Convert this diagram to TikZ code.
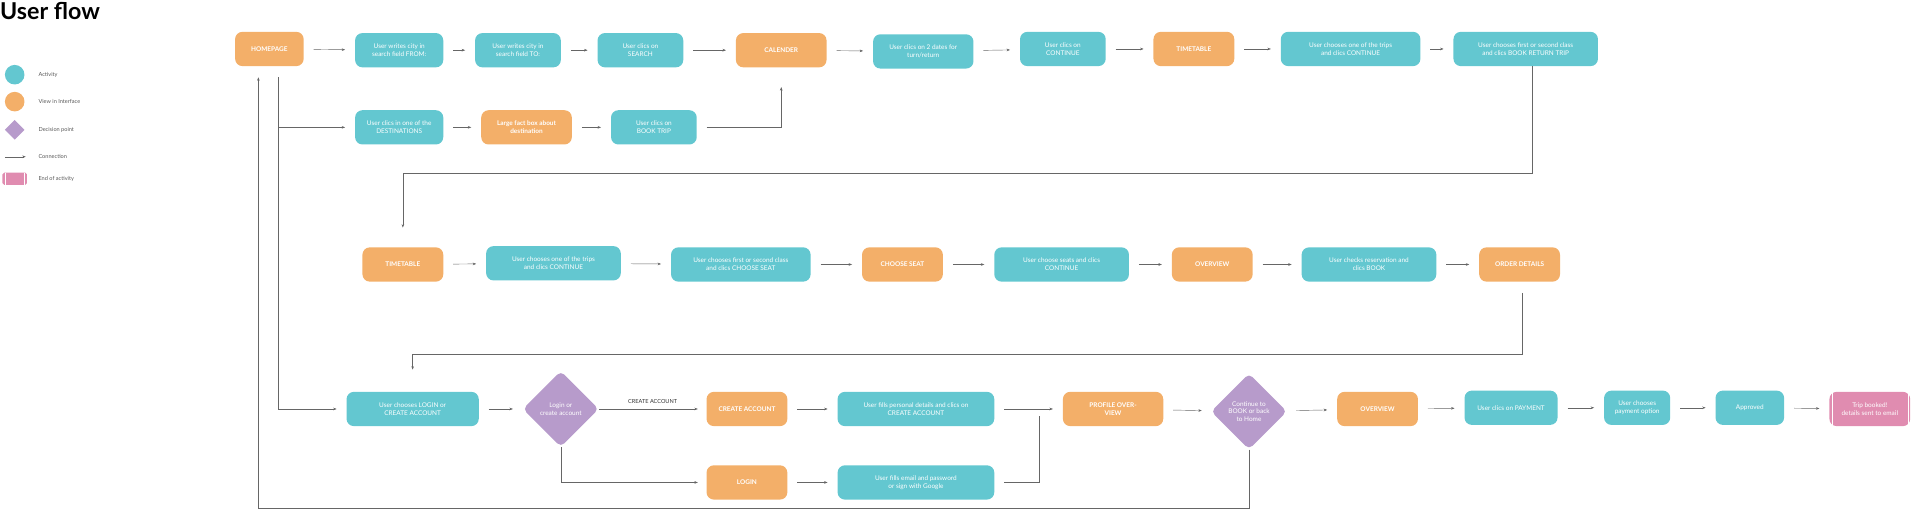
\documentclass[tikz,border=0pt]{standalone}
\usepackage{fontspec}
\setmainfont{Lato}
\usetikzlibrary{arrows.meta,shapes.geometric,shapes.misc}
\definecolor{actcol}{HTML}{63C7D0}
\definecolor{viewcol}{HTML}{F3AF69}
\definecolor{deccol}{HTML}{B79BCB}
\definecolor{endcol}{HTML}{E08CB0}
\tikzset{
  box/.style={rounded corners=0.3cm, minimum height=1.4cm, text=white, align=center,
    font=\fontsize{7.5}{9}\selectfont, inner sep=1pt},
  act/.style={box, fill=actcol, minimum width=3.5cm},
  view/.style={box, fill=viewcol, minimum width=3.3cm, font=\fontsize{7.5}{9}\selectfont\bfseries},
  dec/.style={diamond, fill=deccol, text=white, align=center, rounded corners=0.2cm,
    minimum width=3.1cm, minimum height=3.1cm, inner sep=0pt, font=\fontsize{7.5}{9}\selectfont},
  fin/.style={box, fill=endcol, minimum width=3.3cm},
  con/.style={draw=gray!80!black, line width=0.5pt, -{Stealth[length=4pt,width=3pt]}},
  gap/.style={con, shorten >=0.4cm, shorten <=0.4cm},
  leg/.style={font=\fontsize{6.5}{8}\selectfont, text=gray!70!black, anchor=west}
}
\begin{document}
\begin{tikzpicture}[x=0.05cm, y=-0.05cm]
      \useasboundingbox (0,0) rectangle (1568,426);
      % title and legend
      \node[anchor=north west, inner sep=0pt, font=\fontsize{27}{30}\selectfont\bfseries] (title) at (0,2) {User flow};
      \fill[actcol] (12,61) circle (8);
      \fill[viewcol] (12,83) circle (8);
      \fill[deccol] (12,98) -- (20,106) -- (12,114) -- (4,106) -- cycle;
      \coordinate (la) at (4,128);
      \coordinate (lb) at (21,128);
      \draw[con] (la) -- (lb);
      \fill[endcol, rounded corners=2pt] (2,141) rectangle (22,151);
      \draw[white, thin] (4,141) -- (4,151) (20,141) -- (20,151);
      \node[leg] at (29,61) {Activity};
      \node[leg] at (29,83) {View in Interface};
      \node[leg] at (29,106) {Decision point};
      \node[leg] at (29,128) {Connection};
      \node[leg] at (29,146) {End of activity};

      % row 1
      \node[view, minimum width=2.8cm] (home) at (220,40) {HOMEPAGE};
      \node[act, minimum width=3.6cm] (from) at (326,41) {User writes city in\\search field FROM:};
      \node[act] (to) at (423,41) {User writes city in\\search field TO:};
      \node[act] (search) at (523,41) {User clics on\\SEARCH};
      \node[view, minimum width=3.7cm] (cal) at (638,41) {CALENDER};
      \node[act, minimum width=4.1cm] (dates) at (754,42) {User clics on 2 dates for\\turn/return};
      \node[act] (cont1) at (868,40) {User clics on\\CONTINUE};
      \node[view] (time1) at (975,40) {TIMETABLE};
      \node[act, minimum width=5.7cm] (trip1) at (1103,40) {User chooses one of the trips\\and clics CONTINUE};
      \node[act, minimum width=5.9cm] (class1) at (1246,40) {User chooses first or second class\\and clics BOOK RETURN TRIP};
      % row 1b
      \node[act, minimum width=3.6cm] (dest) at (326,104) {User clics in one of the\\DESTINATIONS};
      \node[view, minimum width=3.7cm] (fact) at (430,104) {Large fact box about\\destination};
      \node[act] (book) at (534,104) {User clics on\\BOOK TRIP};
      % row 2
      \node[view] (time2) at (329,216) {TIMETABLE};
      \node[act, minimum width=5.5cm] (trip2) at (452,215) {User chooses one of the trips\\and clics CONTINUE};
      \node[act, minimum width=5.7cm] (class2) at (605,216) {User chooses first or second class\\and clics CHOOSE SEAT};
      \node[view] (seat) at (737,216) {CHOOSE SEAT};
      \node[act, minimum width=5.5cm] (seats) at (867,216) {User choose seats and clics\\CONTINUE};
      \node[view] (over1) at (990,216) {OVERVIEW};
      \node[act, minimum width=5.5cm] (check) at (1118,216) {User checks reservation and\\clics BOOK};
      \node[view] (order) at (1241,216) {ORDER DETAILS};
      % row 3
      \node[act, minimum width=5.4cm] (login1) at (337,334) {User chooses LOGIN or\\CREATE ACCOUNT};
      \node[dec] (dec1) at (458,334) {Login or\\create account};
      \node[view] (create) at (610,334) {CREATE ACCOUNT};
      \node[act, minimum width=6.4cm] (fill1) at (748,334) {User fills personal details and clics on\\CREATE ACCOUNT};
      \node[view] (login2) at (610,394) {LOGIN};
      \node[act, minimum width=6.4cm] (fill2) at (748,394) {User fills email and password\\or sign with Google};
      \node[view, minimum width=4.1cm] (profile) at (909,334) {PROFILE OVER-\\VIEW};
      \node[dec] (dec2) at (1020,336) {Continue to\\BOOK or back\\to Home};
      \node[view] (over2) at (1125,334) {OVERVIEW};
      \node[act, minimum width=3.8cm] (pay) at (1234,333) {User clics on PAYMENT};
      \node[act, minimum width=2.7cm] (option) at (1337,333) {User chooses\\payment option};
      \node[act, minimum width=2.8cm] (ok) at (1429,333) {Approved};
      \node[fin] (done) at (1527,334) {Trip booked!\\details sent to email};
      \draw[white, thin] ([xshift=0.1cm]done.north west) -- ([xshift=0.1cm]done.south west)
        ([xshift=-0.1cm]done.north east) -- ([xshift=-0.1cm]done.south east);

      % connectors row 1
      \draw[gap] (home) -- (from);
      \draw[gap] (from) -- (to);
      \draw[gap] (to) -- (search);
      \draw[gap] (search) -- (cal);
      \draw[gap] (cal) -- (dates);
      \draw[gap] (dates) -- (cont1);
      \draw[gap] (cont1) -- (time1);
      \draw[gap] (time1) -- (trip1);
      \draw[gap] (trip1) -- (class1);
      \draw[con, shorten >=0.4cm] ([xshift=0.35cm, yshift=-0.45cm]home.south) |- (dest);
      \draw[gap] (dest) -- (fact);
      \draw[gap] (fact) -- (book);
      \draw[con, shorten <=0.4cm, shorten >=0.8cm] (book) -| (cal.south);
      \draw[con] ([xshift=0.25cm]class1.south) -- ++(0,87) -| ([yshift=0.8cm]time2.north);
      % row 2
      \draw[gap] (time2) -- (trip2);
      \draw[gap] (trip2) -- (class2);
      \draw[gap] (class2) -- (seat);
      \draw[gap] (seat) -- (seats);
      \draw[gap] (seats) -- (over1);
      \draw[gap] (over1) -- (check);
      \draw[gap] (check) -- (order);
      \draw[con] ([xshift=0.1cm, yshift=-0.45cm]order.south) -- ++(0,50) -| ([yshift=0.9cm]login1.north);
      % row 3
      \draw[con, shorten >=0.4cm] ([xshift=0.35cm, yshift=-0.45cm]home.south) |- (login1);
      \draw[gap] (login1) -- (dec1);
      \draw[con, shorten >=0.35cm] (dec1) -- node[above=3pt, font=\fontsize{6.5}{8}\selectfont, text=black!80] {CREATE ACCOUNT} (create);
      \draw[con, shorten >=0.35cm] (dec1.south) |- (login2);
      \draw[gap] (create) -- (fill1);
      \draw[gap] (login2) -- (fill2);
      \draw[gap] (fill1) -- (profile);
      \draw[con, shorten <=0.4cm, -] (fill2) -| ([yshift=-0.3cm, xshift=-0.95cm]profile.west);
      \draw[gap] (profile) -- (dec2);
      \draw[gap] (dec2) -- (over2);
      \draw[gap] (over2) -- (pay);
      \draw[gap] (pay) -- (option);
      \draw[gap] (option) -- (ok);
      \draw[gap] (ok) -- (done);
      \draw[con, shorten >=0.45cm] (dec2.south) -- ++(0,48) -| ([xshift=-0.45cm]home.south);
    \end{tikzpicture}
\end{document}
